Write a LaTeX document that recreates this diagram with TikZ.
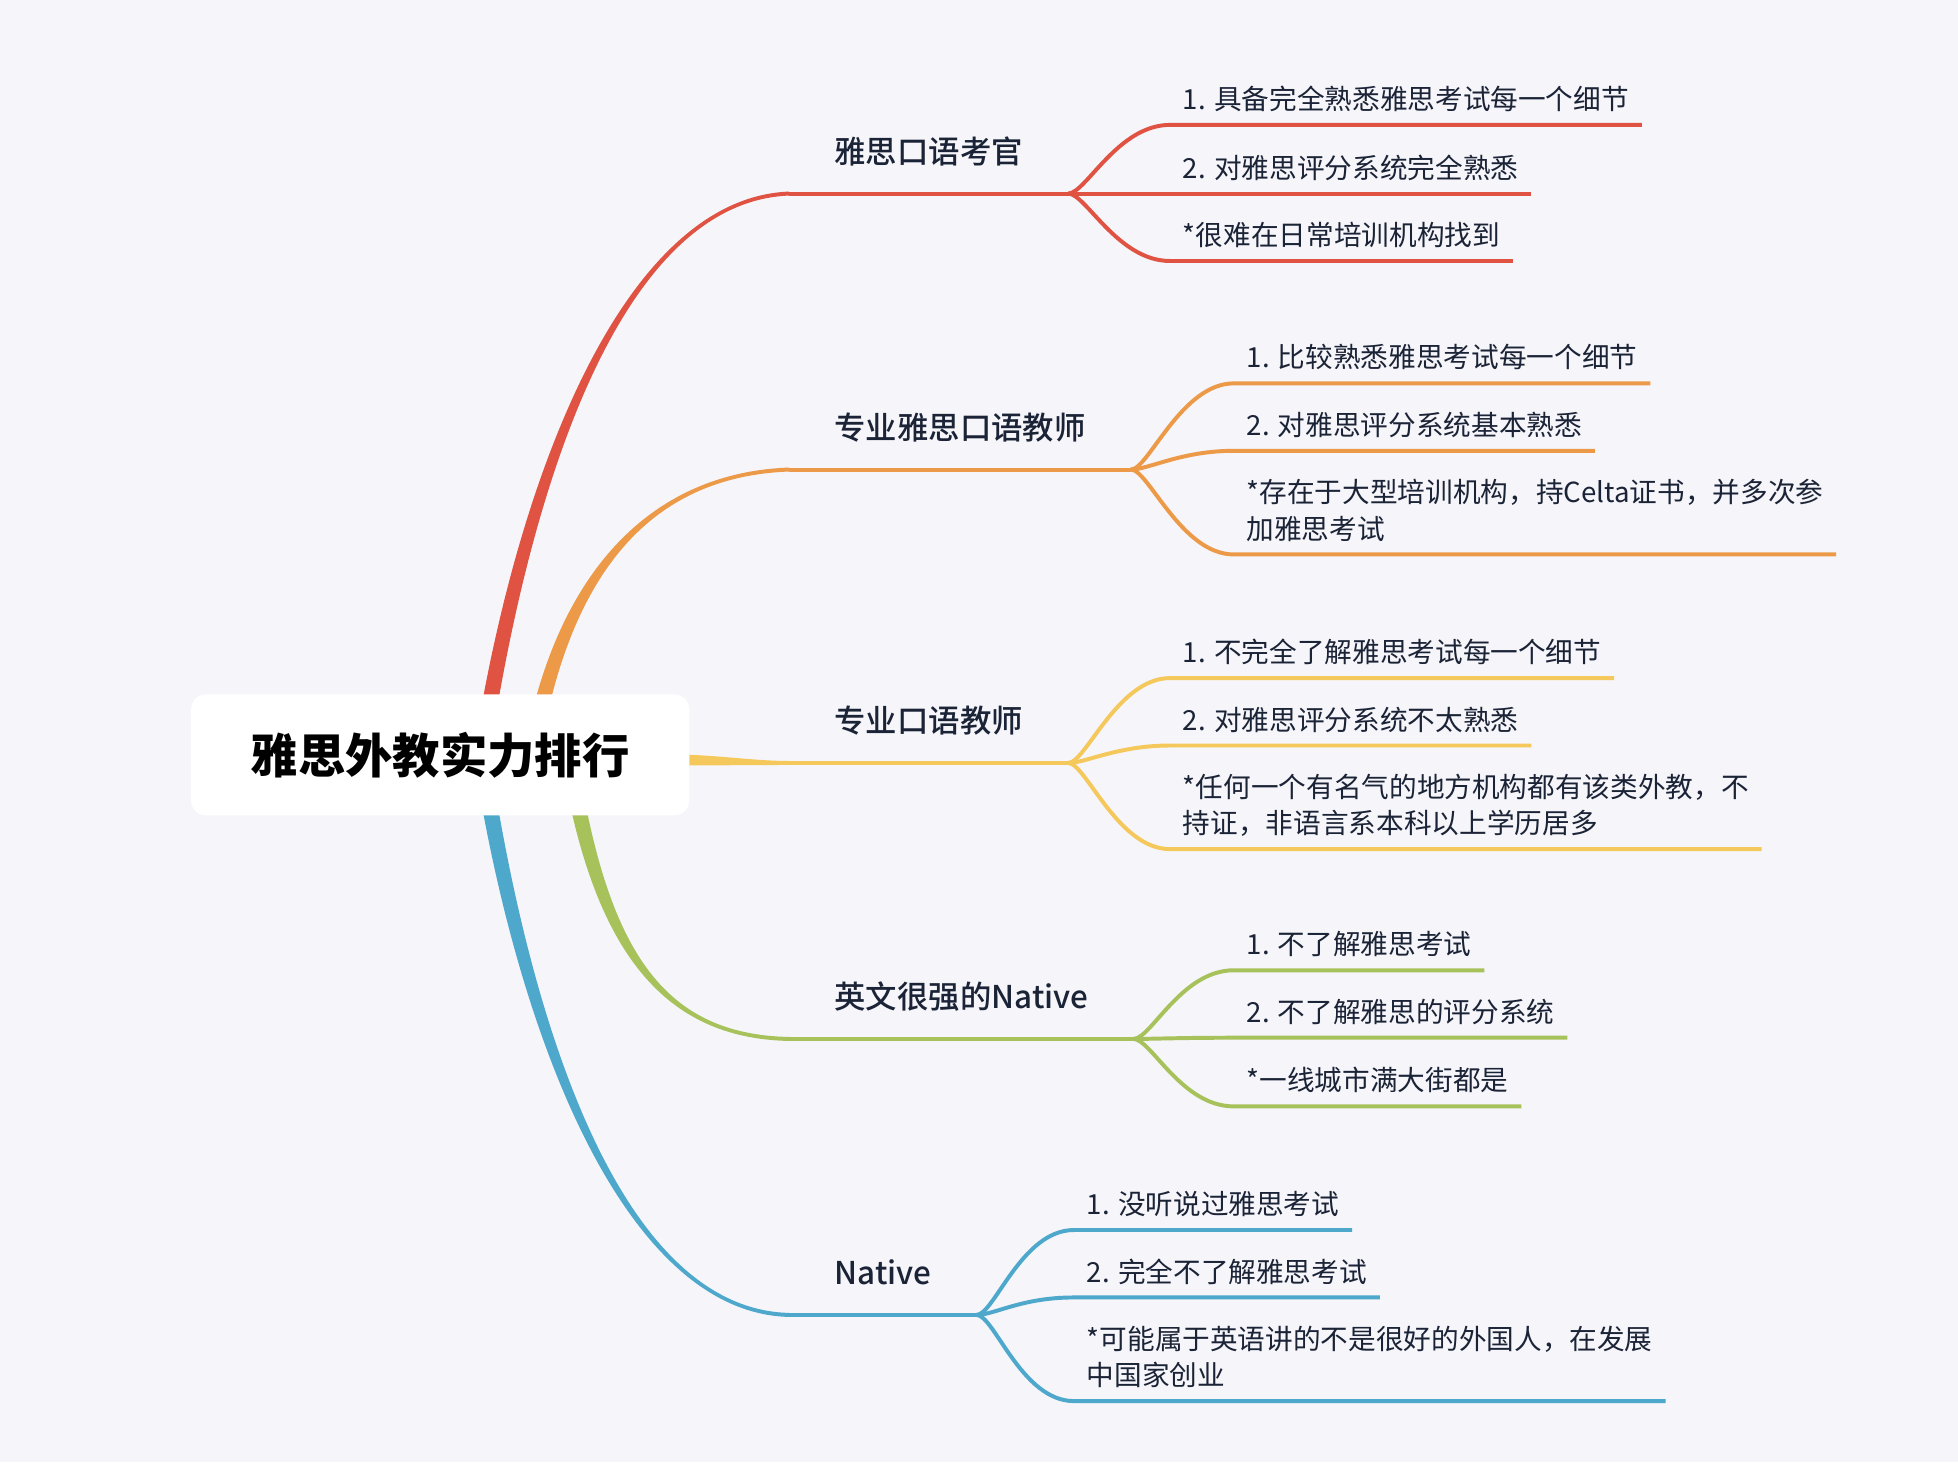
\documentclass[tikz,border=0pt]{standalone}
\usepackage{fontspec}
\setmainfont{Noto Sans CJK SC}
\newfontfamily\mediumfont{Noto Sans CJK SC Medium}
\usetikzlibrary{calc,backgrounds}
\definecolor{bgc}{HTML}{F5F5FA}
\definecolor{inkc}{HTML}{1B2336}
\definecolor{redbr}{HTML}{E05343}
\definecolor{orangebr}{HTML}{EC9A48}
\definecolor{yellowbr}{HTML}{F5C85B}
\definecolor{greenbr}{HTML}{A7C25B}
\definecolor{bluebr}{HTML}{4DA8CC}
\tikzset{
  topic/.style={fill=white, rounded corners=0.24cm, minimum width=7.98cm,
    minimum height=1.94cm, text=black,
    font=\fontsize{21.6}{26}\selectfont\bfseries},
  branch/.style={anchor=south west, inner xsep=0.72cm, inner ysep=0pt,
    text depth=0.48cm, text=inkc, font=\fontsize{14.3}{17}\selectfont\mediumfont},
  leaf/.style={anchor=south west, inner xsep=0.2cm, inner ysep=0pt,
    text depth=0.24cm, align=left, text=inkc,
    font=\fontsize{12.6}{16.5}\selectfont},
  twig/.style={line width=1.8pt},
}
\begin{document}
\begin{tikzpicture}[x=0.02cm, y=-0.02cm]
\useasboundingbox (0,0) rectangle (1568,1171);
\node[topic] (root) at (352.5,604.5) {雅思外教实力排行};
% main topics
\node[branch] (b1) at (632,155) {雅思口语考官};
\node[branch] (b2) at (632,376) {专业雅思口语教师};
\node[branch] (b3) at (632,611) {专业口语教师};
\node[branch] (b4) at (632,832) {英文很强的Native};
\node[branch] (b5) at (632,1053) {Native};
% details
\node[leaf] (b1a) at (937,100) {1. 具备完全熟悉雅思考试每一个细节};
\node[leaf] (b1b) at (937,155) {2. 对雅思评分系统完全熟悉};
\node[leaf] (b1c) at (937,209) {*很难在日常培训机构找到};
\node[leaf] (b2a) at (988,307) {1. 比较熟悉雅思考试每一个细节};
\node[leaf] (b2b) at (988,361) {2. 对雅思评分系统基本熟悉};
\node[leaf] (b2c) at (988,444) {*存在于大型培训机构，持Celta证书，并多次参\\加雅思考试};
\node[leaf] (b3a) at (937,543) {1. 不完全了解雅思考试每一个细节};
\node[leaf] (b3b) at (937,597) {2. 对雅思评分系统不太熟悉};
\node[leaf] (b3c) at (937,680) {*任何一个有名气的地方机构都有该类外教，不\\持证，非语言系本科以上学历居多};
\node[leaf] (b4a) at (988,777) {1. 不了解雅思考试};
\node[leaf] (b4b) at (988,831) {2. 不了解雅思的评分系统};
\node[leaf] (b4c) at (988,886) {*一线城市满大街都是};
\node[leaf] (b5a) at (860,985) {1. 没听说过雅思考试};
\node[leaf] (b5b) at (860,1039) {2. 完全不了解雅思考试};
\node[leaf] (b5c) at (860,1122) {*可能属于英语讲的不是很好的外国人，在发展\\中国家创业};
\begin{scope}[on background layer]
\fill[bgc] (0,0) rectangle (1568,1171);
% tapered trunks
\foreach \b/\col/\dx/\ax/\ay/\bx/\by/\w in {b1/redbr/33/420/380/500/160/-1.6,
    b2/orangebr/73/450/460/520/380/-1.6, b4/greenbr/103/480/760/530/830/1.6,
    b5/bluebr/33/420/830/500/1050/1.6}
  \fill[\col] ($(root.center)+(\dx,0)-(6.5,0)$) .. controls ($(\ax,\ay)-(6,0)$) and ($(\bx,\by)+(0,\w)$)
    .. ($(\b.south west)+(0,\w)$) -- ($(\b.south west)-(0,\w)$)
    .. controls ($(\bx,\by)-(0,\w)$) and ($(\ax,\ay)+(6,0)$) .. ($(root.center)+(\dx,0)+(6.5,0)$) -- cycle;
\fill[yellowbr] ($(root.east)+(-20,-0.5)$) .. controls +(40,0) and +(-30,0)
  .. ($(b3.south west)+(0,-1.6)$) -- ($(b3.south west)+(0,1.6)$)
  .. controls +(-30,0) and +(40,0) .. ($(root.east)+(-20,8.5)$) -- cycle;
% branch lines and details
\foreach \b/\col in {b1/redbr, b2/orangebr, b3/yellowbr, b4/greenbr, b5/bluebr} {
  \draw[twig, \col] (\b.south west) -- (\b.south east);
  \foreach \l in {a,b,c}
    \draw[twig, \col] (\b.south east) .. controls +(14,0) and +(-42,0)
      .. (\b\l.south west) -- (\b\l.south east);
}
\end{scope}
\end{tikzpicture}
\end{document}
